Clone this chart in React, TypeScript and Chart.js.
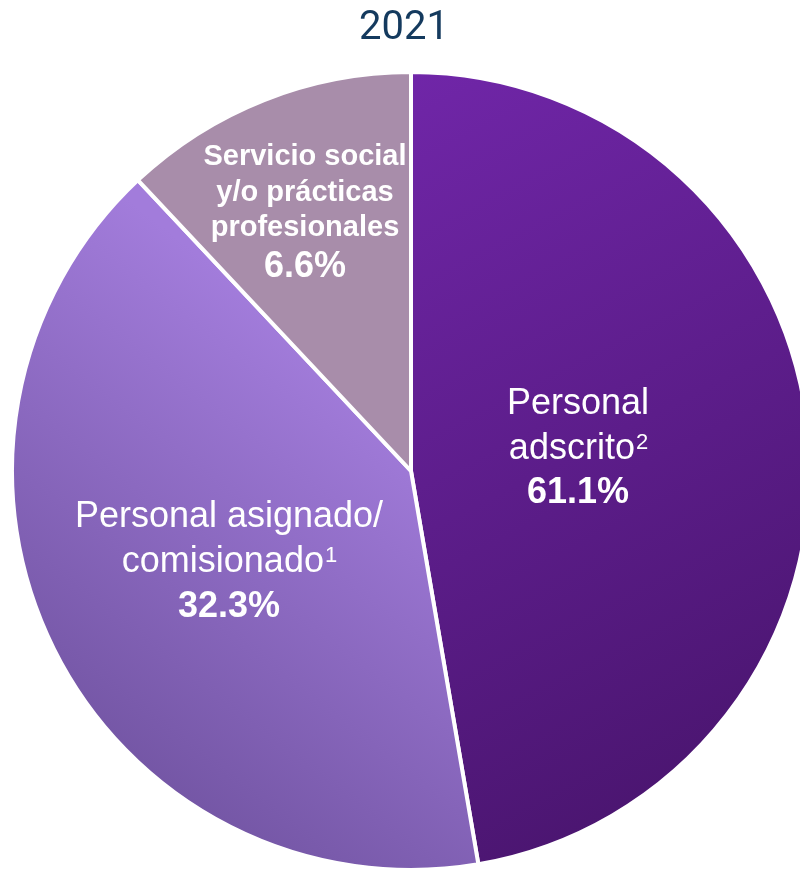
import React, { useEffect, useRef } from "react";
import { Chart, registerables } from "chart.js";

Chart.register(...registerables);

// ---- data ----
const chartTitle = "2021";
const categories = [
  "Personal adscrito",
  "Personal asignado/comisionado",
  "Servicio social y/o prácticas profesionales",
];
// angular share of each slice as drawn in the picture
const sliceShares = [47.3, 40.7, 12.0];
// printed percentages
const percentLabels = ["61.1%", "32.3%", "6.6%"];
const labelLines = [
  ["Personal", "adscrito"],
  ["Personal asignado/", "comisionado"],
  ["Servicio social", "y/o prácticas", "profesionales"],
];
const labelSuperscripts = [
  ["", "2"],
  ["", "1"],
  ["", "", ""],
];

// ---- styling ----
const PIE_RADIUS = 399;
const CANVAS_W = 822;
const CANVAS_H = 870;
const labelStyle = [
  { dx: 167, dy: -57, lineH: 44.5, font: "36px", bold: false, pctGap: 44.5 },
  { dx: -182, dy: 56, lineH: 45, font: "36px", bold: false, pctGap: 45 },
  { dx: -106, dy: -306, lineH: 35.5, font: "29px", bold: true, pctGap: 41 },
];

const FONT = "'Liberation Sans', Arial, sans-serif";

function sliceColor(ctx: any) {
  const chart = ctx.chart;
  const area = chart.chartArea;
  if (!area) return "#6a2aa0";
  const cx = (area.left + area.right) / 2;
  const cy = (area.top + area.bottom) / 2;
  const r = PIE_RADIUS;
  const g = chart.ctx;
  const i = ctx.dataIndex;
  if (i === 0) {
    const grad = g.createLinearGradient(cx, cy - r, cx + r * 0.95, cy + r * 0.85);
    grad.addColorStop(0, "#7026a8");
    grad.addColorStop(1, "#48146c");
    return grad;
  }
  if (i === 1) {
    const grad = g.createLinearGradient(cx - 10, cy - 60, cx - r * 0.8, cy + r * 0.85);
    grad.addColorStop(0, "#a27cdb");
    grad.addColorStop(1, "#6e519e");
    return grad;
  }
  return "#a88daa";
}

const labelPlugin = {
  id: "sliceLabels",
  afterDatasetsDraw(chart: any) {
    const area = chart.chartArea;
    const cx = (area.left + area.right) / 2;
    const cy = (area.top + area.bottom) / 2;
    const g = chart.ctx as CanvasRenderingContext2D;
    g.save();
    g.fillStyle = "#ffffff";
    g.textBaseline = "alphabetic";
    labelLines.forEach((lines, i) => {
      const st = labelStyle[i];
      const x = cx + st.dx;
      let y = cy + st.dy;
      const mainFont = `${st.bold ? "bold " : ""}${st.font} ${FONT}`;
      lines.forEach((line, j) => {
        const sup = labelSuperscripts[i][j];
        g.font = mainFont;
        const w = g.measureText(line).width;
        let sw = 0;
        const supFont = `22px ${FONT}`;
        if (sup) {
          g.font = supFont;
          sw = g.measureText(sup).width;
        }
        const start = x - (w + sw) / 2;
        g.textAlign = "left";
        g.font = mainFont;
        g.fillText(line, start, y);
        if (sup) {
          g.font = supFont;
          g.fillText(sup, start + w + 1, y - 10);
        }
        y += st.lineH;
      });
      y += st.pctGap - st.lineH;
      g.font = `bold 36px ${FONT}`;
      g.textAlign = "center";
      g.fillText(percentLabels[i], x, y);
    });
    // title
    g.fillStyle = "#143a5e";
    g.font = `40px Roboto, ${FONT}`;
    g.textAlign = "center";
    g.fillText(chartTitle, 404, 39);
    g.restore();
  },
};

export default function App() {
  const ref = useRef<HTMLCanvasElement | null>(null);
  useEffect(() => {
    if (!ref.current) return;
    const chart = new Chart(ref.current, {
      type: "pie",
      data: {
        labels: categories,
        datasets: [
          {
            data: sliceShares,
            backgroundColor: sliceColor as any,
            borderColor: "#ffffff",
            borderWidth: 4,
            hoverBorderWidth: 4,
            hoverOffset: 0,
          },
        ],
      },
      options: {
        responsive: false,
        maintainAspectRatio: false,
        animation: false,
        radius: PIE_RADIUS,
        layout: { padding: { top: 72, bottom: 0, left: 0, right: 0 } },
        plugins: {
          legend: { display: false },
          title: { display: false },
          tooltip: { enabled: false },
        },
        events: [],
      } as any,
      plugins: [labelPlugin],
    });
    return () => chart.destroy();
  }, []);
  return (
    <div
      style={{
        position: "absolute",
        left: 0,
        top: 0,
        width: 800,
        height: 870,
        overflow: "hidden",
        background: "#ffffff",
      }}
    >
      <canvas
        ref={ref}
        width={CANVAS_W}
        height={CANVAS_H}
        style={{ display: "block", width: CANVAS_W, height: CANVAS_H }}
      />
    </div>
  );
}
